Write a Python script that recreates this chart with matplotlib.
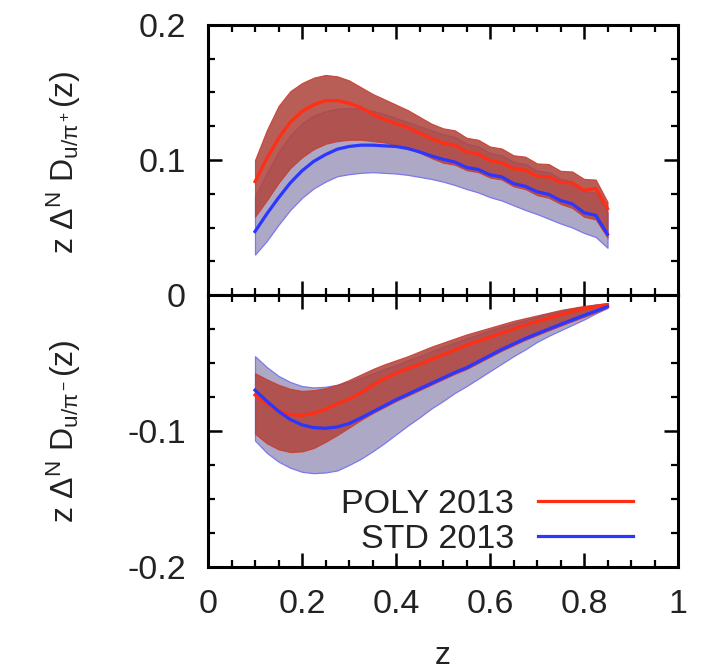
import matplotlib
matplotlib.use("Agg")
import matplotlib.pyplot as plt
from matplotlib.ticker import MultipleLocator, FixedLocator, FixedFormatter

plt.rcParams['font.family'] = ['Liberation Sans', 'DejaVu Sans']
plt.rcParams['mathtext.fontset'] = 'custom'
plt.rcParams['mathtext.rm'] = 'Liberation Sans'
plt.rcParams['mathtext.it'] = 'Liberation Sans'
plt.rcParams['mathtext.sf'] = 'Liberation Sans'
plt.rcParams['axes.unicode_minus'] = False

# ---- data -------------------------------------------------------------
z = [0.100, 0.125, 0.150, 0.175, 0.200, 0.225, 0.250, 0.275, 0.300, 0.325,
     0.350, 0.375, 0.400, 0.425, 0.450, 0.475, 0.500, 0.525, 0.550, 0.575,
     0.600, 0.625, 0.650, 0.675, 0.700, 0.725, 0.750, 0.775, 0.800, 0.825, 0.850]

# u -> pi+  (upper panel)
poly_plus = [0.084, 0.101, 0.116, 0.128, 0.136, 0.141, 0.144, 0.144, 0.142, 0.139,
             0.134, 0.130, 0.127, 0.124, 0.120, 0.116, 0.1125, 0.111, 0.106, 0.1045,
             0.0995, 0.098, 0.0935, 0.0925, 0.088, 0.0875, 0.0835, 0.083, 0.0775, 0.079, 0.064]
poly_plus_hi = [0.100, 0.122, 0.140, 0.151, 0.157, 0.161, 0.163, 0.162, 0.159, 0.154,
                0.149, 0.145, 0.141, 0.137, 0.132, 0.127, 0.1235, 0.122, 0.1165, 0.115,
                0.110, 0.1085, 0.1035, 0.1025, 0.0975, 0.097, 0.092, 0.0915, 0.086, 0.0855, 0.069]
poly_plus_lo = [0.058, 0.070, 0.083, 0.094, 0.102, 0.108, 0.112, 0.114, 0.115, 0.115,
                0.114, 0.113, 0.111, 0.109, 0.1055, 0.1015, 0.098, 0.0965, 0.0925, 0.091,
                0.087, 0.0855, 0.0805, 0.0785, 0.074, 0.072, 0.0675, 0.0645, 0.058, 0.056, 0.0425]
std_plus = [0.047, 0.060, 0.072, 0.083, 0.092, 0.099, 0.104, 0.108, 0.110, 0.111,
            0.111, 0.1105, 0.110, 0.1085, 0.106, 0.103, 0.1005, 0.0985, 0.0945, 0.093,
            0.089, 0.0875, 0.0825, 0.0805, 0.0765, 0.0745, 0.070, 0.0675, 0.061, 0.059, 0.045]
std_plus_hi = [0.073, 0.090, 0.106, 0.118, 0.127, 0.133, 0.136, 0.138, 0.1385, 0.138,
               0.1365, 0.134, 0.131, 0.128, 0.125, 0.122, 0.119, 0.117, 0.112, 0.110,
               0.105, 0.1035, 0.0985, 0.097, 0.092, 0.091, 0.086, 0.084, 0.077, 0.076, 0.061]
std_plus_lo = [0.030, 0.040, 0.052, 0.063, 0.072, 0.079, 0.084, 0.088, 0.0895, 0.0905,
               0.091, 0.0905, 0.090, 0.089, 0.0875, 0.086, 0.084, 0.0815, 0.0785, 0.076,
               0.0725, 0.070, 0.0665, 0.063, 0.060, 0.0565, 0.053, 0.050, 0.046, 0.043, 0.035]

# u -> pi-  (lower panel)
poly_minus = [-0.0735, -0.080, -0.085, -0.088, -0.0885, -0.087, -0.084, -0.080, -0.0765, -0.072,
              -0.0665, -0.0615, -0.0575, -0.054, -0.051, -0.0475, -0.044, -0.0405, -0.037, -0.034,
              -0.031, -0.028, -0.025, -0.022, -0.0195, -0.017, -0.0145, -0.012, -0.010, -0.0085, -0.0072]
poly_minus_hi = [-0.0575, -0.062, -0.066, -0.069, -0.0705, -0.070, -0.0685, -0.066, -0.0625, -0.0585,
                 -0.0545, -0.051, -0.048, -0.045, -0.0415, -0.038, -0.035, -0.032, -0.029, -0.0265,
                 -0.024, -0.0215, -0.019, -0.017, -0.015, -0.013, -0.011, -0.0095, -0.008, -0.007, -0.006]
poly_minus_lo = [-0.102, -0.109, -0.1135, -0.1155, -0.115, -0.1125, -0.108, -0.103, -0.0975, -0.092,
                 -0.087, -0.0825, -0.078, -0.074, -0.070, -0.066, -0.062, -0.058, -0.0545, -0.050,
                 -0.0455, -0.041, -0.037, -0.033, -0.0295, -0.026, -0.0226, -0.0193, -0.016, -0.0128, -0.0092]
std_minus = [-0.070, -0.078, -0.0855, -0.0915, -0.0955, -0.0975, -0.098, -0.097, -0.0945, -0.0905,
             -0.086, -0.0815, -0.077, -0.073, -0.069, -0.065, -0.061, -0.057, -0.0535, -0.049,
             -0.0445, -0.040, -0.036, -0.032, -0.0285, -0.025, -0.0216, -0.0183, -0.015, -0.0118, -0.0085]
std_minus_hi = [-0.045, -0.053, -0.0595, -0.064, -0.067, -0.068, -0.0675, -0.066, -0.064, -0.061,
                -0.058, -0.0545, -0.0515, -0.048, -0.045, -0.0415, -0.038, -0.035, -0.032, -0.029,
                -0.026, -0.0235, -0.021, -0.0185, -0.016, -0.014, -0.012, -0.010, -0.0085, -0.007, -0.006]
std_minus_lo = [-0.107, -0.116, -0.1225, -0.127, -0.130, -0.131, -0.1305, -0.129, -0.125, -0.1205,
                -0.115, -0.109, -0.1025, -0.096, -0.090, -0.0835, -0.078, -0.072, -0.067, -0.0615,
                -0.056, -0.0505, -0.045, -0.040, -0.0345, -0.030, -0.026, -0.022, -0.018, -0.0135, -0.0095]

series_labels = ['POLY 2013', 'STD 2013']
x_ticks = [0, 0.2, 0.4, 0.6, 0.8, 1]
x_ticklabels = ['0', '0.2', '0.4', '0.6', '0.8', '1']
top_yticks = [0, 0.1, 0.2]
top_yticklabels = ['0', '0.1', '0.2']
bot_yticks = [-0.2, -0.1, 0]
bot_yticklabels = ['-0.2', '-0.1', '']

# ---- styling ----------------------------------------------------------
RED_LINE = '#ff2e14'
BLUE_LINE = '#2b36ff'
RED_FILL = '#b04640'
BLUE_FILL = '#aca8c6'
TEXT = '#222222'
FS = 24.5
FS_LABEL = 23

fig = plt.figure(figsize=(7.11, 6.70), dpi=100)
ax_top = fig.add_axes([0.29255, 0.55970, 0.66104, 0.40299])
ax_bot = fig.add_axes([0.29255, 0.15373, 0.66104, 0.40597])


def draw_panel(ax, std_c, std_lo, std_hi, poly_c, poly_lo, poly_hi):
    ax.fill_between(z, std_lo, std_hi, facecolor=BLUE_FILL, edgecolor='#7a78ee',
                    linewidth=0.9, zorder=1)
    ax.fill_between(z, poly_lo, poly_hi, facecolor=RED_FILL, alpha=0.88,
                    edgecolor='#cc3a2c', linewidth=0.8, zorder=2)
    l1, = ax.plot(z, poly_c, color=RED_LINE, lw=2.3, zorder=4, label=series_labels[0])
    l2, = ax.plot(z, std_c, color=BLUE_LINE, lw=2.3, zorder=4, label=series_labels[1])
    return l1, l2


def style_axes(ax, yticks, yticklabels, ylim):
    ax.set_xlim(0, 1)
    ax.set_ylim(*ylim)
    ax.xaxis.set_major_locator(FixedLocator(x_ticks))
    ax.xaxis.set_minor_locator(MultipleLocator(0.05))
    ax.yaxis.set_major_locator(FixedLocator(yticks))
    ax.yaxis.set_major_formatter(FixedFormatter(yticklabels))
    ax.yaxis.set_minor_locator(MultipleLocator(0.025))
    ax.tick_params(which='both', direction='in', top=True, right=True,
                   colors='black', labelcolor=TEXT, labelsize=FS)
    ax.tick_params(which='major', length=10, width=1.8)
    ax.tick_params(which='minor', length=5, width=1.6)
    ax.tick_params(axis='x', pad=16)
    ax.tick_params(axis='y', pad=16)
    for sp in ax.spines.values():
        sp.set_linewidth(2.2)


draw_panel(ax_top, std_plus, std_plus_lo, std_plus_hi, poly_plus, poly_plus_lo, poly_plus_hi)
lines = draw_panel(ax_bot, std_minus, std_minus_lo, std_minus_hi, poly_minus, poly_minus_lo, poly_minus_hi)

style_axes(ax_top, top_yticks, top_yticklabels, (0, 0.2))
style_axes(ax_bot, bot_yticks, bot_yticklabels, (-0.2, 0))
ax_top.tick_params(axis='x', labelbottom=False)
ax_bot.xaxis.set_major_formatter(FixedFormatter(x_ticklabels))

ax_top.set_ylabel(r'z $\Delta^{\mathrm{N}}$ D$_{\mathrm{u/\pi^+}}$(z)', fontsize=FS_LABEL, color=TEXT)
ax_bot.set_ylabel(r'z $\Delta^{\mathrm{N}}$ D$_{\mathrm{u/\pi^-}}$(z)', fontsize=FS_LABEL, color=TEXT)
ax_top.yaxis.set_label_coords(-0.265, 0.49)
ax_bot.yaxis.set_label_coords(-0.265, 0.50)
ax_bot.set_xlabel('z', fontsize=FS_LABEL, color=TEXT, labelpad=15)

ax_bot.legend(handles=list(lines), loc='lower right', bbox_to_anchor=(0.904, 0.045),
              markerfirst=False, frameon=False, fontsize=FS, handlelength=2.8,
              handletextpad=0.7, labelspacing=0.1, borderpad=0, borderaxespad=0,
              labelcolor=TEXT)

fig.savefig('out.png', dpi=100)
